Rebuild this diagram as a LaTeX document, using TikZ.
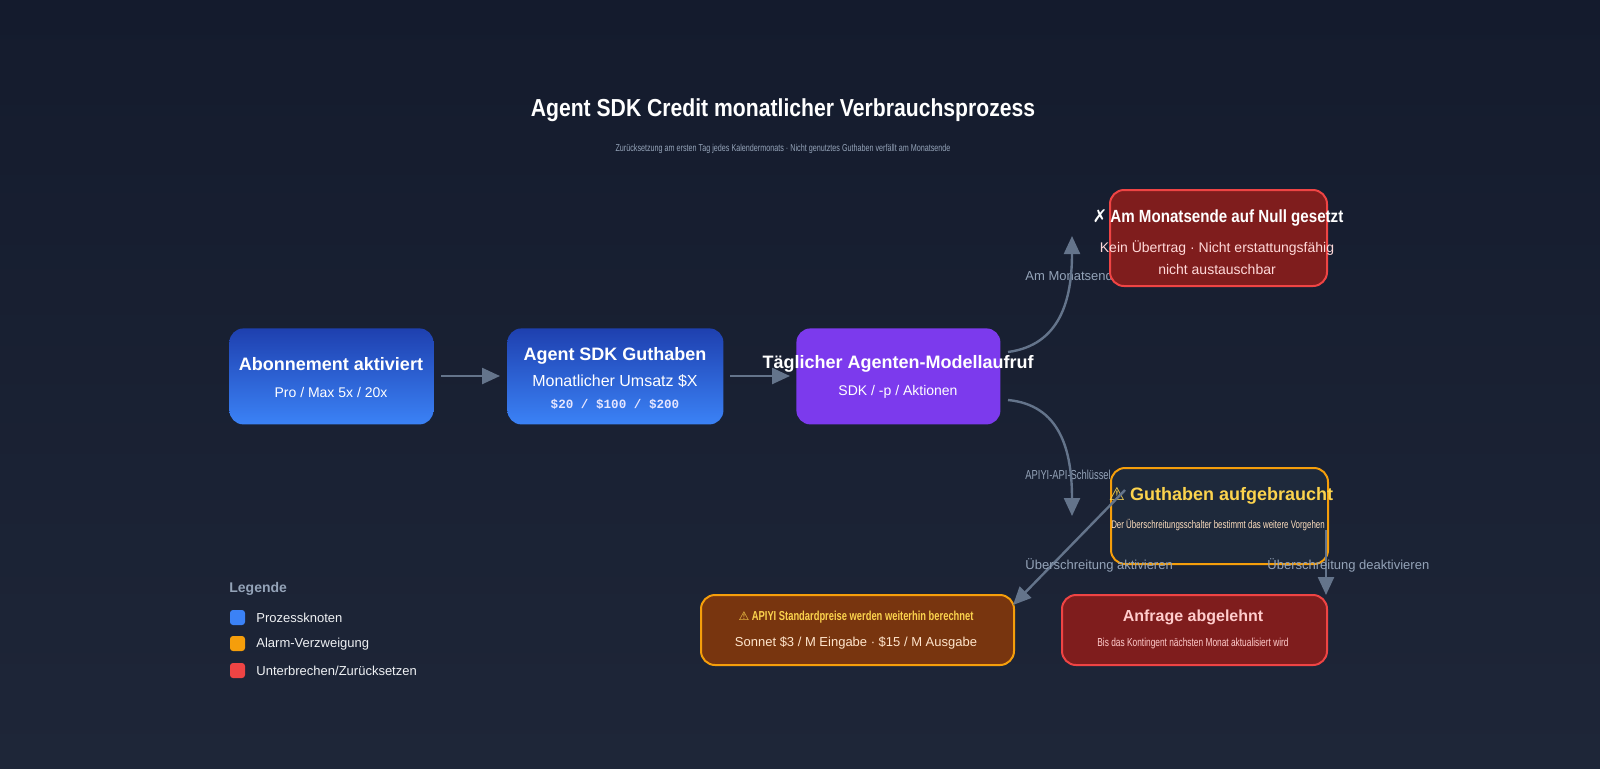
\documentclass[tikz,border=0pt]{standalone}
\usepackage{fontspec}
\setmainfont{Liberation Sans}
\newfontfamily\condfont{Liberation Sans}[FakeStretch=0.72]
\newfontfamily\midcond{Liberation Sans}[FakeStretch=0.86]
\newfontfamily\symf{DejaVu Sans}
\newfontfamily\monof{Liberation Mono}
\usetikzlibrary{arrows.meta,shapes.geometric}
\definecolor{bgt}{HTML}{141B2D}
\definecolor{bgb}{HTML}{1E2638}
\definecolor{arr}{HTML}{64748B}
\definecolor{lbl}{HTML}{94A3B8}
\definecolor{redf}{HTML}{7F1D1D}
\definecolor{redb}{HTML}{EF4444}
\definecolor{orb}{HTML}{F59E0B}
\definecolor{orf}{HTML}{78350F}
\definecolor{yel}{HTML}{FCD34D}
\definecolor{darkf}{HTML}{1E293B}
\definecolor{blt}{HTML}{1E40AF}
\definecolor{blb}{HTML}{3B82F6}
\definecolor{purp}{HTML}{7C3AED}
\tikzset{
  box/.style={rounded corners=7pt, minimum width=#1, inner sep=0pt, anchor=north west},
  box/.default=100pt,
  ttl/.style={text=white, font=\bfseries\fontsize{9}{11}\selectfont},
  sub/.style={text=white, font=\fontsize{7}{9}\selectfont},
  edge/.style={draw=arr, line width=1.2pt, -{Triangle[width=8pt,length=9pt]}},
  elab/.style={text=lbl, font=\fontsize{6.5}{8}\selectfont, anchor=west, inner sep=0pt},
  leg/.style={text=white!85!lbl, font=\fontsize{6.5}{8}\selectfont, anchor=west, inner sep=0pt}
}
\begin{document}
\begin{tikzpicture}[x=0.5pt,y=-0.5pt]
\shade[top color=bgt, bottom color=bgb] (0,0) rectangle (1600,768);
\useasboundingbox (0,0) rectangle (1600,768);
\node[text=white, font=\midcond\bfseries\fontsize{12.3}{14}\selectfont] (title) at (783,110) {Agent SDK Credit monatlicher Verbrauchsprozess};
\node[text=lbl, font=\condfont\fontsize{5}{6}\selectfont] (subt) at (783,149) {Zurücksetzung am ersten Tag jedes Kalendermonats · Nicht genutztes Guthaben verfällt am Monatsende};
% nodes
\node[box=102pt, minimum height=48pt, top color=blt, bottom color=blb] (A) at (229,328) {};
\node[ttl] (At) at (331,364) {Abonnement aktiviert};
\node[sub] (As) at (331,392) {Pro / Max 5x / 20x};
\node[box=108pt, minimum height=48pt, top color=blt, bottom color=blb] (B) at (507,328) {};
\node[ttl] (Bt) at (615,356) {Agent SDK Guthaben};
\node[sub, font=\fontsize{8}{9}\selectfont] (Bs) at (615,381) {Monatlicher Umsatz \$X};
\node[text=blue!10, font=\monof\bfseries\fontsize{6.3}{8}\selectfont] (Bm) at (615,404) {\$20 / \$100 / \$200};
\node[box=102pt, minimum height=48pt, fill=purp] (C) at (796,328) {};
\node[ttl] (Ct) at (898,364) {Täglicher Agenten-Modellaufruf};
\node[sub] (Cs) at (898,392) {SDK / -p / Aktionen};
% edges to D and E (labels first, boxes cover them)
\coordinate (C1) at (1008,352);
\coordinate (C2) at (1008,400);
\node[elab] (l1) at (1025,276) {Am Monatsende};
\node[elab, font=\condfont\fontsize{6.5}{8}\selectfont] (l2) at (1025,475) {APIYI-API-Schlüssel};
\coordinate (Dtip) at (1072,236);
\coordinate (Etip) at (1072,516);
\draw[edge] (C1) .. controls (1060,345) and (1072,300) .. (Dtip);
\draw[edge] (C2) .. controls (1060,405) and (1072,450) .. (Etip);
\node[box=108.5pt, minimum height=48pt, fill=redf, draw=redb, line width=1pt] (D) at (1109,189) {};
\node[ttl, font=\bfseries\midcond\fontsize{8.8}{10}\selectfont] (Dt) at (1218,218) {{\symf ✗}\,Am Monatsende auf Null gesetzt};
\node[sub, text=red!15, align=center, font=\fontsize{7}{11}\selectfont] (Ds) at (1217,258) {Kein Übertrag · Nicht erstattungsfähig\\nicht austauschbar};
\node[box=108.5pt, minimum height=48pt, fill=darkf, draw=orb, line width=1pt] (E) at (1110,467) {};
\node[ttl, text=yel, font=\bfseries\fontsize{9}{11}\selectfont] (Et) at (1221,496) {{\symf\mdseries ⚠} Guthaben aufgebraucht};
\node[sub, text=orange!25, font=\condfont\fontsize{5.5}{7}\selectfont] (Es) at (1218,525) {Der Überschreitungsschalter bestimmt das weitere Vorgehen};
% lower boxes
\node[box=156.5pt, minimum height=35pt, fill=orf, draw=orb, line width=1pt] (F) at (700,594) {};
\node[ttl, text=yel, font=\bfseries\condfont\fontsize{6.5}{8}\selectfont] (Ft) at (856,617) {{\symf\mdseries\fontsize{6}{8}\selectfont ⚠} APIYI Standardpreise werden weiterhin berechnet};
\node[sub, text=orange!20, font=\fontsize{6.5}{8}\selectfont] (Fs) at (856,643) {Sonnet \$3 / M Eingabe · \$15 / M Ausgabe};
\node[box=132.5pt, minimum height=35pt, fill=redf, draw=redb, line width=1pt] (G) at (1061,594) {};
\node[ttl, text=red!20, font=\bfseries\fontsize{8}{10}\selectfont] (Gt) at (1193,617) {Anfrage abgelehnt};
\node[sub, text=red!20, font=\condfont\fontsize{5.8}{7}\selectfont] (Gs) at (1193,643) {Bis das Kontingent nächsten Monat aktualisiert wird};
% edges
\coordinate (a1) at (441,376);
\coordinate (b0) at (500,376);
\coordinate (b1) at (730,376);
\coordinate (c0) at (790,376);
\draw[edge] (a1) -- (b0);
\draw[edge] (b1) -- (c0);
\coordinate (E1) at (1125,490);
\coordinate (Fin) at (1013,605);
\draw[edge] (E1) -- (Fin);
\coordinate (E2) at (1326,530);
\coordinate (Gin) at (1326,595);
\draw[edge] (E2) -- (Gin);
\node[elab] (l3) at (1025,565) {Überschreitung aktivieren};
\node[elab] (l4) at (1267,565) {Überschreitung deaktivieren};
% legend
\node[elab, font=\bfseries\fontsize{7}{8}\selectfont] (lg) at (229,589) {Legende};
\fill[rounded corners=1.5pt, fill=blb] (230,610) rectangle (245,625);
\fill[rounded corners=1.5pt, fill=orb] (230,636) rectangle (245,651);
\fill[rounded corners=1.5pt, fill=redb] (230,663) rectangle (245,678);
\node[leg] (g1) at (256,618) {Prozessknoten};
\node[leg] (g2) at (256,644) {Alarm-Verzweigung};
\node[leg] (g3) at (256,671) {Unterbrechen/Zurücksetzen};
\end{tikzpicture}
\end{document}
